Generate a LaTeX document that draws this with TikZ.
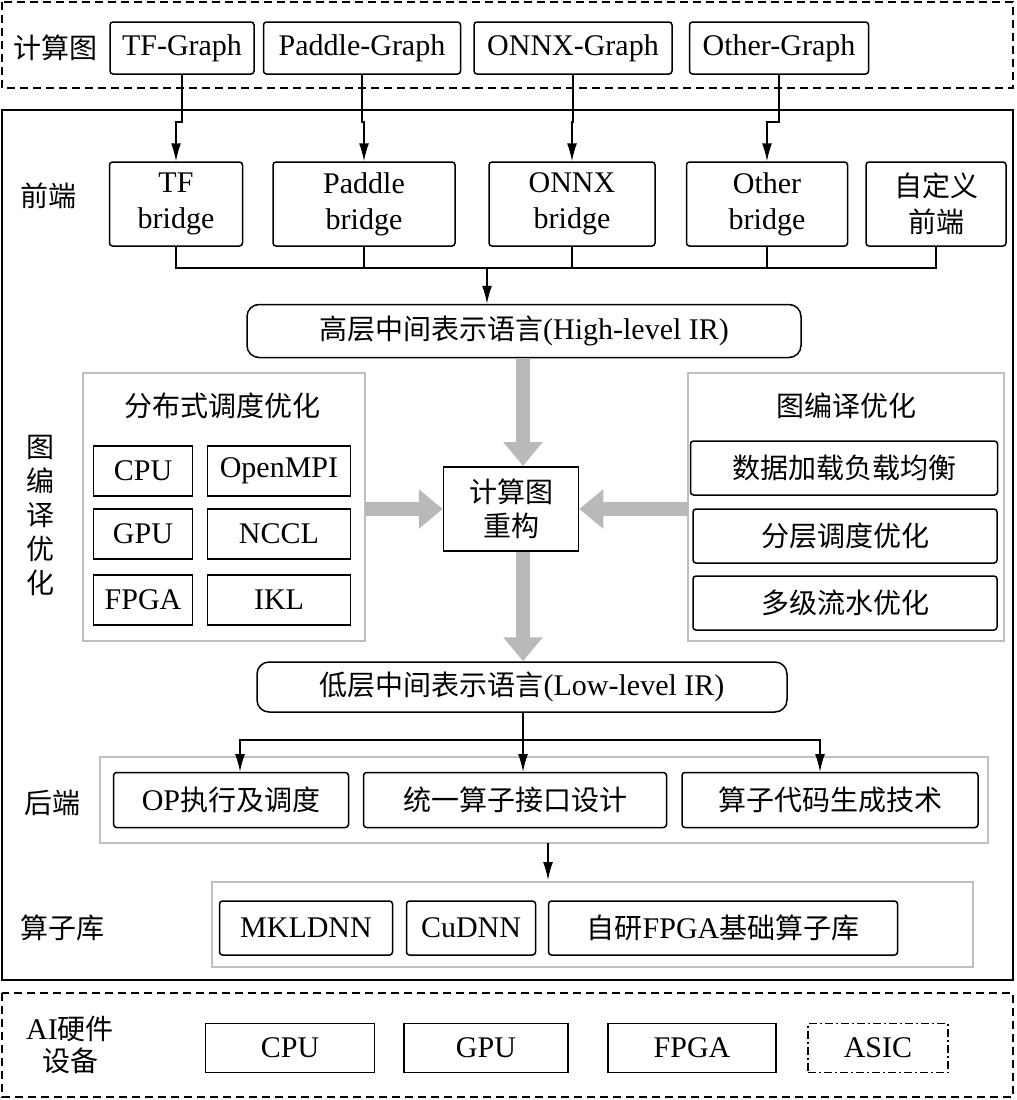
\documentclass[tikz,border=0pt]{standalone}
\usepackage{fontspec}
\setmainfont{Liberation Serif}
\newfontfamily\cjk{Noto Sans CJK SC}
\usetikzlibrary{arrows.meta}
\tikzset{every picture/.style={line width=0.75pt}}
\tikzset{
  box/.style={draw,rounded corners=3pt,line width=1.5pt,align=center,font=\fontsize{30}{31}\selectfont,inner sep=0pt},
  grp/.style={draw=gray!50,line width=1.5pt},
  frame/.style={dash pattern=on 8pt off 5pt,line width=1.5pt},
  arr/.style={-{Latex[length=18pt,width=10pt]},line width=1.5pt},
  fat/.style={-{Triangle[length=24pt,width=38pt]},line width=14pt,draw=gray!55},
  lbl/.style={font=\cjk\fontsize{28}{32}\selectfont,align=center,inner sep=0pt}
}
\begin{document}
\begin{tikzpicture}[x=1pt,y=1pt,yscale=-1,xscale=1]
\useasboundingbox (0,0) rectangle (1017,1100);

%Frames
\draw [frame] (2,2) rectangle (1013,88);
\draw [line width=1.5pt] (2,110) rectangle (1013,980);
\draw [frame] (2,993) rectangle (1013,1097);
\draw [grp] (83,373) rectangle (365,641);
\draw [grp] (688,373) rectangle (1004,641);
\draw [grp] (100,757) rectangle (988,843);
\draw [grp] (212,882) rectangle (973,967);

%Graphs
\node [lbl] (lgraph) at (55,48) {计算图};
\node [box,minimum width=144,minimum height=52] (tfg) at (182,48) {TF-Graph};
\node [box,minimum width=197,minimum height=52] (pdg) at (362,48) {Paddle-Graph};
\node [box,minimum width=198,minimum height=52] (oxg) at (573,48) {ONNX-Graph};
\node [box,minimum width=179,minimum height=52] (otg) at (779,48) {Other-Graph};

%Bridges
\node [lbl] (lfront) at (48,196) {前端};
\node [box,minimum width=133,minimum height=84,font=\fontsize{30}{36}\selectfont] (tfb) at (176,204) {TF\\bridge};
\node [box,minimum width=182,minimum height=84,font=\fontsize{30}{36}\selectfont] (pdb) at (364,204) {Paddle\\bridge};
\node [box,minimum width=166,minimum height=84,font=\fontsize{30}{36}\selectfont] (oxb) at (572,204) {ONNX\\bridge};
\node [box,minimum width=161,minimum height=84,font=\fontsize{30}{36}\selectfont] (otb) at (767,204) {Other\\bridge};
\node [box,minimum width=140,minimum height=84,font=\cjk\fontsize{28}{36}\selectfont] (cusb) at (936,204) {自定义\\前端};

\draw [arr] (tfg.south) -- (182,122) -| (tfb.north);
\draw [arr] (pdg.south) -- (362,122) -| (pdb.north);
\draw [arr] (oxg.south) -- (573,122) -| (oxb.north);
\draw [arr] (otg.south) -- (779,122) -| (otb.north);

%High-level IR
\node [box,rounded corners=12pt,minimum width=554,minimum height=53] (hir) at (524,331) {{\cjk\fontsize{28}{30}\selectfont 高层中间表示语言}(High-level IR)};
\coordinate (bus) at (487,268);
\draw [line width=1.5pt] (tfb.south) |- (cusb.south |- bus) -- (cusb.south);
\foreach \b in {pdb,oxb,otb} \draw [line width=1.5pt] (\b.south) -- (\b.south |- bus);
\draw [arr] (bus) -- (bus |- hir.north);

%Left group
\node [lbl] (ldist) at (222,406) {分布式调度优化};
\node [box,rounded corners=0pt,minimum width=99,minimum height=50] (cpu) at (143,471) {CPU};
\node [box,rounded corners=0pt,minimum width=143,minimum height=50] (mpi) at (279,471) {OpenMPI};
\node [box,rounded corners=0pt,minimum width=99,minimum height=50] (gpu) at (143,534) {GPU};
\node [box,rounded corners=0pt,minimum width=143,minimum height=50] (nccl) at (279,534) {NCCL};
\node [box,rounded corners=0pt,minimum width=99,minimum height=50] (fpga) at (143,600) {FPGA};
\node [box,rounded corners=0pt,minimum width=143,minimum height=50] (ikl) at (279,600) {IKL};
\node [lbl,font=\cjk\fontsize{28}{34}\selectfont] (lopt) at (40,515) {图\\编\\译\\优\\化};

%Right group
\node [lbl] (lcomp) at (846,406) {图编译优化};
\node [box,font=\cjk\fontsize{28}{30}\selectfont,minimum width=307,minimum height=54] (load) at (844,468) {数据加载负载均衡};
\node [box,font=\cjk\fontsize{28}{30}\selectfont,minimum width=304,minimum height=54] (layer) at (845,536) {分层调度优化};
\node [box,font=\cjk\fontsize{28}{30}\selectfont,minimum width=304,minimum height=54] (pipe) at (845,603) {多级流水优化};

%Center
\node [box,rounded corners=0pt,font=\cjk\fontsize{28}{34}\selectfont,minimum width=135,minimum height=84] (recon) at (511,509) {计算图\\重构};
\node [box,rounded corners=12pt,minimum width=530,minimum height=50] (lir) at (522,687) {{\cjk\fontsize{28}{30}\selectfont 低层中间表示语言}(Low-level IR)};
\draw [fat] (hir.south -| 523,0) -- (523,466);
\draw [fat] (365,509) -- (recon.west);
\draw [fat] (688,509) -- (recon.east);
\draw [fat] (523,552) -- (lir.north -| 523,0);

%Backend
\node [lbl] (lback) at (52,803) {后端};
\node [box,minimum width=235,minimum height=55] (opx) at (231,800) {OP{\cjk\fontsize{28}{30}\selectfont 执行及调度}};
\node [box,font=\cjk\fontsize{28}{30}\selectfont,minimum width=303,minimum height=55] (uni) at (515,800) {统一算子接口设计};
\node [box,font=\cjk\fontsize{28}{30}\selectfont,minimum width=296,minimum height=55] (gen) at (830,800) {算子代码生成技术};
\coordinate (split) at (523,740);
\draw [line width=1.5pt] (lir.south -| split) -- (split);
\draw [arr] (split) -| (240,772);
\draw [arr] (split) -| (820,772);
\draw [arr] (split) -- (523,772);
\draw [arr] (548,843) -- (548,880);

%Operator library
\node [lbl] (llib) at (62,928) {算子库};
\node [box,minimum width=173,minimum height=54] (mkl) at (306,928) {MKLDNN};
\node [box,minimum width=129,minimum height=54] (cud) at (471,928) {CuDNN};
\node [box,minimum width=349,minimum height=54] (own) at (723,928) {{\cjk\fontsize{28}{30}\selectfont 自研}FPGA{\cjk\fontsize{28}{30}\selectfont 基础算子库}};

%Hardware
\node [lbl] (lhw) at (70,1045) {{\rmfamily\fontsize{30}{32}\selectfont AI}硬件\\设备};
\node [box,rounded corners=0pt,minimum width=169,minimum height=49] (hcpu) at (290,1048) {CPU};
\node [box,rounded corners=0pt,minimum width=164,minimum height=49] (hgpu) at (486,1048) {GPU};
\node [box,rounded corners=0pt,minimum width=168,minimum height=49] (hfpga) at (692,1048) {FPGA};
\node [box,rounded corners=0pt,dash pattern=on 8pt off 3pt on 2pt off 3pt,minimum width=140,minimum height=49] (hasic) at (878,1048) {ASIC};

\end{tikzpicture}
\end{document}
